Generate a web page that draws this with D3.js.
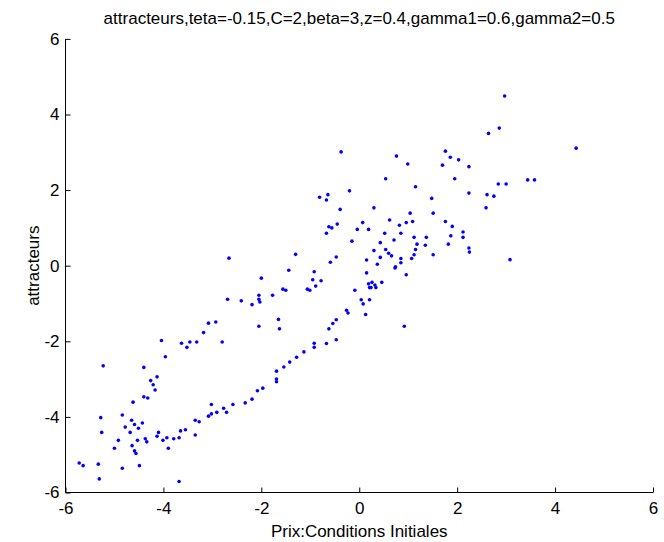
<!DOCTYPE html>
<html><head><meta charset="utf-8">
<script src="https://cdn.jsdelivr.net/npm/d3@7"></script>
<style>
html,body{margin:0;padding:0;background:#fff;}
svg{display:block;}
text{font-family:"Liberation Sans",Arial,sans-serif;}
</style></head>
<body>
<svg id="chart" width="664" height="542"></svg>
<script>
const titleText = "attracteurs,teta=-0.15,C=2,beta=3,z=0.4,gamma1=0.6,gamma2=0.5";
const xLabel = "Prix:Conditions Initiales";
const yLabel = "attracteurs";
const xTicks = [-6,-4,-2,0,2,4,6];
const yTicks = [-6,-4,-2,0,2,4,6];

const xs = [
-2.66,-2.00,-2.69,-2.41,-2.19,-2.05,-2.05,-2.03,-1.77,-2.05,-1.65,-1.63,-3.08,-2.93,-3.18,-4.04,-3.63,-3.46,-3.32,-3.52,
-2.80,-3.96,-5.23,-4.40,-4.13,-4.26,-4.21,-4.17,-4.40,-4.32,-4.62,-5.28,-4.84,-4.65,-4.59,-4.43,-4.51,-4.78,-4.68,-5.26,
-4.92,-5.00,-4.53,-4.64,-4.59,-4.56,-4.37,-4.34,-4.13,-4.10,-4.01,-3.93,-3.90,-3.79,-3.68,-3.65,-3.55,-3.35,-3.27,-3.35,
-3.08,-3.02,-2.91,-3.02,-2.77,-2.71,-2.58,-2.33,-2.19,-2.08,-1.97,-1.69,-1.69,-1.69,-5.72,-5.64,-5.33,-5.31,-4.84,-4.49,
-3.68,-0.37,0.76,0.99,1.76,1.86,2.03,1.70,2.24,0.54,1.15,1.95,2.24,-0.20,-0.81,-0.64,-0.67,1.48,-0.39,0.30,
1.04,1.51,0.62,0.96,1.09,0.82,1.76,1.90,2.12,2.12,1.87,1.82,2.24,2.25,0.07,-0.04,0.19,-0.62,-0.56,-0.45,
-0.67,0.52,0.85,-0.15,0.43,0.71,1.12,1.37,1.18,1.35,1.15,1.12,1.07,1.51,0.54,0.60,0.66,0.30,0.43,0.15,
0.85,0.85,0.74,0.73,0.37,0.96,0.15,-1.30,-0.47,-0.59,-1.44,-0.92,-0.95,-0.78,-0.89,-1.56,-1.50,-1.06,-1.01,0.19,
0.26,0.32,0.34,0.21,0.24,0.46,-0.09,0.04,0.08,0.21,0.13,-0.26,-0.23,0.92,-0.47,-0.54,-0.62,-0.47,-0.67,-0.92,
-0.92,2.97,2.86,2.64,4.43,2.84,3.00,3.44,3.58,2.61,2.75,2.59,3.08,-1.54,-1.42,-1.28,-1.13
];
const ys = [
0.20,-0.33,-0.89,-0.93,-1.03,-0.78,-0.89,-0.96,-0.78,-1.60,-1.42,-1.67,-1.52,-1.49,-1.77,-1.98,-2.05,-2.02,-2.02,-2.16,
-2.02,-2.41,-2.65,-2.69,-2.94,-3.04,-3.15,-3.29,-3.47,-3.50,-3.61,-4.02,-3.95,-4.09,-4.20,-4.16,-4.30,-4.27,-4.41,-4.41,
-4.62,-4.83,-4.62,-4.76,-4.90,-4.97,-4.58,-4.66,-4.51,-4.41,-4.62,-4.55,-4.83,-4.58,-4.55,-4.37,-4.34,-4.09,-4.13,-4.48,
-3.98,-3.92,-3.88,-3.67,-3.77,-3.88,-3.67,-3.63,-3.53,-3.31,-3.24,-2.79,-3.00,-3.07,-5.22,-5.29,-5.25,-5.64,-5.36,-5.29,
-5.71,3.01,2.90,2.69,3.03,2.87,2.80,2.66,2.62,2.30,2.09,2.30,1.92,1.98,1.81,1.88,1.74,1.78,1.49,1.53,
1.39,1.39,1.21,1.14,1.17,1.07,1.17,1.04,0.89,0.75,0.79,0.57,0.47,0.36,1.14,0.96,0.96,1.03,1.00,1.10,
0.86,0.86,0.86,0.65,0.61,0.68,0.75,0.75,0.57,0.54,0.43,0.29,0.19,0.29,0.43,0.33,0.26,0.40,0.22,0.15,
0.19,0.08,-0.03,-0.06,0.04,-0.24,-0.19,0.30,0.23,0.09,-0.12,-0.16,-0.37,-0.40,-0.54,-0.62,-0.65,-0.62,-0.65,-0.48,
-0.44,-0.51,-0.58,-0.58,-0.58,-0.44,-0.65,-0.90,-1.01,-0.90,-1.29,-1.18,-1.25,-1.60,-1.43,-1.53,-1.67,-1.96,-2.06,-2.05,
-2.16,4.49,3.64,3.50,3.11,2.16,2.16,2.27,2.27,1.88,1.84,1.53,0.16,-2.68,-2.55,-2.42,-2.28
];

const svg = d3.select("#chart");
const mLeft = 65.5, mRight = 653, mTop = 38.9, mBottom = 492.5;
const fs = 17;
const x = d3.scaleLinear().domain([-6,6]).range([mLeft,mRight]);
const y = d3.scaleLinear().domain([-6,6]).range([mBottom,mTop]);

// bottom axis
const gx = svg.append("g").attr("transform",`translate(0,${mBottom})`)
  .call(d3.axisBottom(x).tickValues(xTicks).tickSize(-5).tickPadding(9).tickFormat(d => String(d)));
gx.select(".domain").attr("d",`M${mLeft},0H${mRight}`).attr("stroke","#000");
gx.selectAll("text").attr("font-size",fs).attr("font-family","Liberation Sans, Arial, sans-serif").attr("fill","#000");
gx.selectAll("line").attr("stroke","#000");

// left axis
const gy = svg.append("g").attr("transform",`translate(${mLeft},0)`)
  .call(d3.axisLeft(y).tickValues(yTicks).tickSize(-5).tickPadding(6).tickFormat(d => String(d)));
gy.select(".domain").attr("d",`M0,${mBottom}V${mTop}`).attr("stroke","#000");
gy.selectAll("text").attr("font-size",fs).attr("font-family","Liberation Sans, Arial, sans-serif").attr("fill","#000");
gy.selectAll("line").attr("stroke","#000");

// points
svg.append("g").selectAll("circle").data(xs.map((v,i)=>[v,ys[i]])).join("circle")
  .attr("cx",d=>x(d[0])).attr("cy",d=>y(d[1])).attr("r",1.8).attr("fill","#0000ff");

// title & labels
svg.append("text").attr("x",(mLeft+mRight)/2).attr("y",24).attr("text-anchor","middle")
  .attr("font-size",fs).text(titleText);
svg.append("text").attr("x",(mLeft+mRight)/2).attr("y",537).attr("text-anchor","middle")
  .attr("font-size",fs).text(xLabel);
svg.append("text").attr("transform",`translate(39,${(mTop+mBottom)/2}) rotate(-90)`).attr("text-anchor","middle")
  .attr("font-size",fs).text(yLabel);
</script>
</body></html>
